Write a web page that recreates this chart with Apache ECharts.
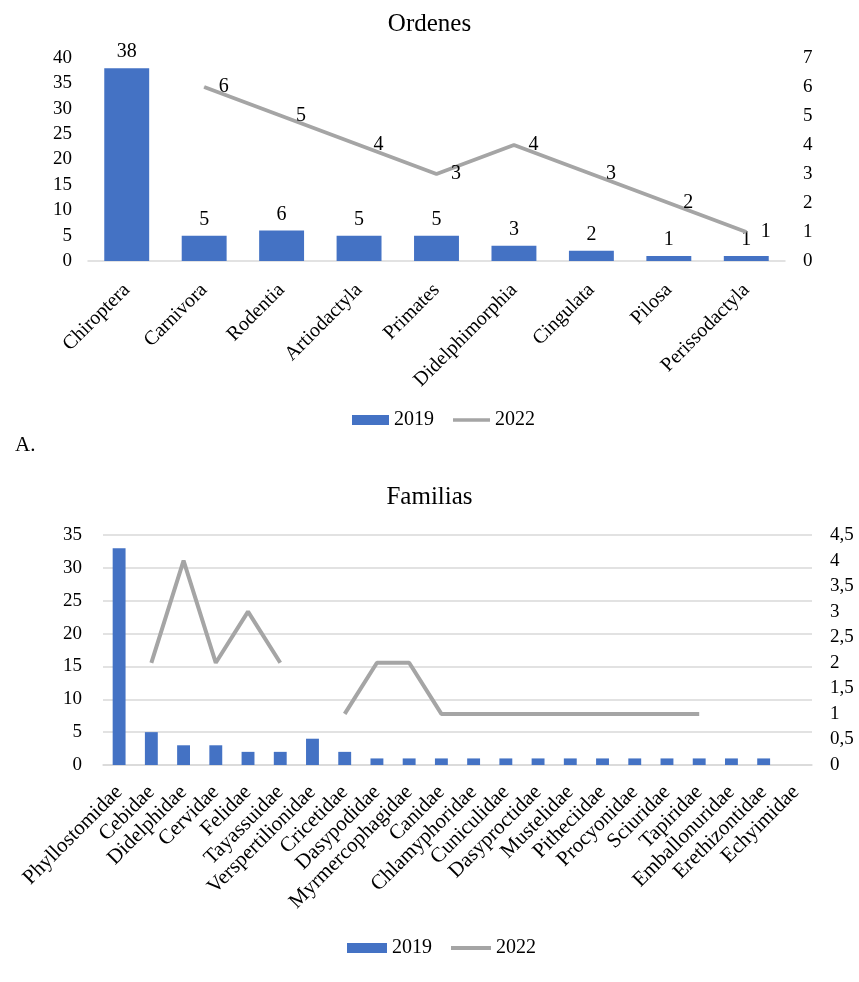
<!DOCTYPE html>
<html><head><meta charset="utf-8">
<script src="https://cdn.jsdelivr.net/npm/echarts@6/dist/echarts.min.js"></script>
<style>html,body{margin:0;padding:0;background:#fff}#c{width:859px;height:982px}</style>
</head><body><div id="c"></div>
<script>
// ---- Data: Ordenes ----
const ordenes = ['Chiroptera','Carnivora','Rodentia','Artiodactyla','Primates','Didelphimorphia','Cingulata','Pilosa','Perissodactyla'];
const ordenes2019 = [38,5,6,5,5,3,2,1,1];
const ordenes2022 = [null,6,5,4,3,4,3,2,1];
const ordenesLeftTicks = [0,5,10,15,20,25,30,35,40];
const ordenesRightTicks = [0,1,2,3,4,5,6,7];

// ---- Data: Familias ----
const familias = ['Phyllostomidae','Cebidae','Didelphidae','Cervidae','Felidae','Tayassuidae','Verspertilionidae','Cricetidae','Dasypodidae','Myrmercophagidae','Canidae','Chlamyphoridae','Cuniculidae','Dasyproctidae','Mustelidae','Pitheciidae','Procyonidae','Sciuridae','Tapiridae','Emballonuridae','Erethizontidae','Echyimidae'];
const familias2019 = [33,5,3,3,2,2,4,2,1,1,1,1,1,1,1,1,1,1,1,1,1,null];
const familias2022 = [null,2,4,2,3,2,null,1,2,2,1,1,1,1,1,1,1,1,1,null,null,null];
const familiasLeftTicks = [0,5,10,15,20,25,30,35];
const familiasRightTicks = [0,0.5,1,1.5,2,2.5,3,3.5,4,4.5];

const seriesNames = ['2019','2022'];

const FONT = 'Liberation Serif, Times New Roman, serif';
const BLUE = '#4472c4';
const GRAY = '#a5a5a5';
const AXIS = '#d9d9d9';
const LINE_ICON = 'path://M0,0 L40,0 L40,4 L0,4 Z';

function tickAxis(ticks){
  return {min: ticks[0], max: ticks[ticks.length-1], interval: ticks[1]-ticks[0]};
}
const txt = {fontFamily: FONT, color: '#000'};

function legendData(){
  return [{name: seriesNames[0], icon: 'rect'},
          {name: seriesNames[1], icon: LINE_ICON, itemStyle: {color: GRAY}}];
}

const chart = echarts.init(document.getElementById('c'), null, {renderer:'canvas'});
chart.setOption({
  backgroundColor: '#fff',
  animation: false,
  textStyle: {fontFamily: FONT},
  title: [
    {text: 'Ordenes', left: 'center', top: 7, textStyle: Object.assign({fontSize: 25, fontWeight: 'normal'}, txt)},
    {text: 'Familias', left: 'center', top: 480, textStyle: Object.assign({fontSize: 25, fontWeight: 'normal'}, txt)}
  ],
  graphic: [
    {type: 'text', left: 15, top: 435, style: {text: 'A.', font: '21px ' + FONT, fill: '#000'}}
  ],
  legend: [
    {left: 347, top: 405, itemWidth: 37, itemHeight: 10, itemGap: 19,
     data: legendData(),
     textStyle: Object.assign({fontSize: 20}, txt), selectedMode: false},
    {left: 342, top: 933, itemWidth: 40, itemHeight: 10, itemGap: 19,
     data: legendData(),
     textStyle: Object.assign({fontSize: 20}, txt), selectedMode: false}
  ],
  grid: [
    {left: 88, width: 697, top: 58, height: 203},
    {left: 103, width: 709, top: 535, height: 230}
  ],
  xAxis: [
    {type: 'category', gridIndex: 0, data: ordenes,
     axisLine: {lineStyle: {color: AXIS, width: 1.5}}, axisTick: {show: false},
     axisLabel: Object.assign({rotate: 45, fontSize: 20, margin: 26, interval: 0}, txt)},
    {type: 'category', gridIndex: 1, data: familias,
     axisLine: {lineStyle: {color: AXIS, width: 1.5}}, axisTick: {show: false},
     axisLabel: Object.assign({rotate: 45, fontSize: 21, margin: 24, interval: 0}, txt)}
  ],
  yAxis: [
    Object.assign({type: 'value', gridIndex: 0, position: 'left', splitLine: {show: false},
     axisLine: {show: false}, axisTick: {show: false},
     axisLabel: Object.assign({fontSize: 19, margin: 16}, txt)}, tickAxis(ordenesLeftTicks)),
    Object.assign({type: 'value', gridIndex: 0, position: 'right', splitLine: {show: false},
     axisLine: {show: false}, axisTick: {show: false},
     axisLabel: Object.assign({fontSize: 19, margin: 18}, txt)}, tickAxis(ordenesRightTicks)),
    Object.assign({type: 'value', gridIndex: 1, position: 'left', splitLine: {show: true, lineStyle: {color: AXIS, width: 1.5}},
     axisLine: {show: false}, axisTick: {show: false},
     axisLabel: Object.assign({fontSize: 19, margin: 21}, txt)}, tickAxis(familiasLeftTicks)),
    Object.assign({type: 'value', gridIndex: 1, position: 'right', splitLine: {show: false},
     axisLine: {show: false}, axisTick: {show: false},
     axisLabel: Object.assign({fontSize: 19, margin: 18, formatter: v => String(v).replace('.', ',')}, txt)}, tickAxis(familiasRightTicks))
  ],
  series: [
    {name: seriesNames[0], type: 'bar', xAxisIndex: 0, yAxisIndex: 0, data: ordenes2019,
     barCategoryGap: '42%', itemStyle: {color: BLUE},
     label: Object.assign({show: true, position: 'top', distance: 6, fontSize: 20}, txt)},
    {name: seriesNames[1], type: 'line', xAxisIndex: 0, yAxisIndex: 1, data: ordenes2022,
     symbol: 'circle', symbolSize: 1, showSymbol: true,
     lineStyle: {color: GRAY, width: 4}, itemStyle: {color: GRAY},
     label: Object.assign({show: true, position: 'right', distance: 14, fontSize: 20}, txt)},
    {name: seriesNames[0], type: 'bar', xAxisIndex: 1, yAxisIndex: 2, data: familias2019,
     barCategoryGap: '60%', itemStyle: {color: BLUE}},
    {name: seriesNames[1], type: 'line', xAxisIndex: 1, yAxisIndex: 3, data: familias2022,
     symbol: 'none', lineStyle: {color: GRAY, width: 4}, itemStyle: {color: GRAY}}
  ]
});
</script></body></html>
